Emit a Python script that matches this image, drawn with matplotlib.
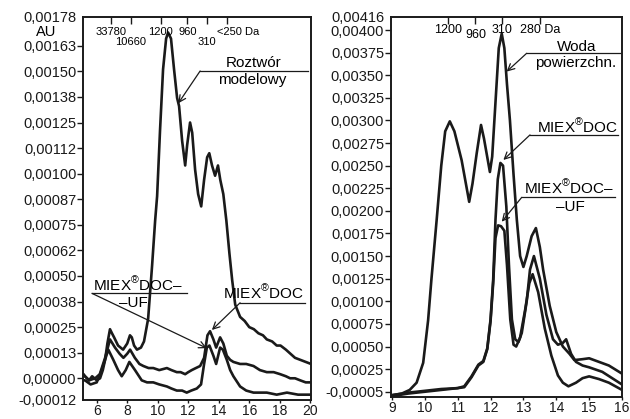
import matplotlib
matplotlib.use('Agg')
import matplotlib.pyplot as plt
import matplotlib.transforms as mtrans

plt.rcParams['font.family'] = ['Liberation Sans', 'DejaVu Sans']
plt.rcParams['mathtext.fontset'] = 'custom'
plt.rcParams['mathtext.rm'] = 'Liberation Sans'

# left panel: model solution and MIEX treated samples
l_model_x = [5.12, 5.23, 5.5, 5.7, 6.0, 6.22, 6.4, 6.55, 6.7, 6.87, 7.0, 7.14, 7.4, 7.73, 8.0, 8.18,
             8.3, 8.45, 8.64, 8.9, 9.1, 9.37, 9.63, 9.83, 9.96, 10.15, 10.35, 10.55, 10.68, 10.87,
             11.07, 11.27, 11.4, 11.6, 11.8, 11.93, 12.12, 12.26, 12.45, 12.65, 12.85, 13.04, 13.24,
             13.38, 13.56, 13.76, 13.95, 14.1, 14.3, 14.5, 14.7, 14.88, 15.08, 15.4, 15.7, 16.0,
             16.3, 16.6, 16.9, 17.15, 17.5, 17.8, 18.05, 18.4, 18.7, 19.0, 19.35, 19.7, 20.05]
l_model_y = [0.00002, 0.00001, -0.00001, 0.00001, -0.00001, 0.0, 0.00004, 0.00009, 0.00017, 0.00024,
             0.00022, 0.0002, 0.00016, 0.00014, 0.00017, 0.00021, 0.0002, 0.00016, 0.00014, 0.00015,
             0.00018, 0.00029, 0.00055, 0.00077, 0.00089, 0.00121, 0.00151, 0.00166, 0.00169, 0.00166,
             0.00151, 0.00137, 0.00133, 0.00116, 0.00104, 0.00114, 0.00125, 0.0012, 0.00102, 0.0009,
             0.00084, 0.00097, 0.00108, 0.0011, 0.00104, 0.00099, 0.00104, 0.00097, 0.0009, 0.00077,
             0.00061, 0.00048, 0.00036, 0.0003, 0.00028, 0.00025, 0.00024, 0.00022, 0.00021, 0.00019,
             0.00018, 0.00016, 0.00016, 0.00014, 0.00012, 0.0001, 0.00009, 0.00008, 0.00007]

l_doc_x = [5.12, 5.23, 5.5, 5.9, 6.2, 6.55, 6.87, 7.2, 7.5, 7.75, 8.0, 8.19, 8.5, 8.8, 9.06, 9.4,
           9.71, 10.1, 10.6, 10.9, 11.25, 11.5, 11.8, 12.0, 12.23, 12.5, 12.78, 13.04, 13.26, 13.43,
           13.65, 13.83, 14.09, 14.3, 14.53, 14.75, 14.96, 15.4, 15.8, 16.28, 16.7, 17.15, 17.6,
           18.03, 18.4, 18.68, 19.0, 19.34, 19.7, 20.05]
l_doc_y = [0.00002, 0.00001, -0.00001, 0.0, 0.00002, 0.0001, 0.00019, 0.00015, 0.00012, 0.0001,
           0.00012, 0.00014, 0.0001, 0.00007, 0.00006, 0.00005, 0.00005, 0.00004, 0.00005, 0.00004,
           0.00003, 0.00003, 0.00002, 0.00003, 0.00004, 0.00005, 0.00006, 0.0001, 0.00021, 0.00023,
           0.00019, 0.00015, 0.0002, 0.00017, 0.00011, 0.00009, 0.00008, 0.00007, 0.00007, 0.00006,
           0.00004, 0.00003, 0.00003, 0.00002, 0.00001, 0.0, 0.0, -0.00001, -0.00002, -0.00002]

l_uf_x = [5.12, 5.23, 5.6, 6.0, 6.33, 6.76, 7.09, 7.4, 7.64, 7.9, 8.14, 8.51, 8.95, 9.3, 9.71, 10.1,
          10.6, 10.9, 11.25, 11.6, 11.9, 12.2, 12.56, 12.84, 13.04, 13.22, 13.39, 13.65, 13.83,
          14.09, 14.27, 14.53, 14.75, 14.96, 15.4, 15.8, 16.28, 16.7, 17.15, 17.8, 18.47, 19.2, 20.05]
l_uf_y = [-0.00001, -0.00001, -0.00003, -0.00002, 0.00004, 0.00014, 0.00009, 0.00004, 0.00001,
          0.00004, 0.00008, 0.00004, -0.00001, -0.00002, -0.00002, -0.00003, -0.00004, -0.00005,
          -0.00006, -0.00006, -0.00007, -0.00006, -0.00005, -0.00003, 0.00007, 0.00015, 0.00016,
          0.00011, 0.00007, 0.00015, 0.00014, 0.00009, 0.00004, 0.00001, -0.00004, -0.00006,
          -0.00007, -0.00007, -0.00007, -0.00008, -0.00007, -0.00008, -0.00008]

# right panel: surface water and MIEX treated samples
r_water_x = [8.97, 9.3, 9.54, 9.75, 9.95, 10.1, 10.2, 10.36, 10.5, 10.62, 10.76, 10.9, 11.12, 11.25,
             11.35, 11.45, 11.58, 11.71, 11.8, 11.98, 12.05, 12.15, 12.25, 12.34, 12.42, 12.5, 12.59,
             12.7, 12.8, 12.9, 13.0, 13.1, 13.25, 13.38, 13.5, 13.6, 13.8, 14.0, 14.2, 14.4, 14.55,
             14.8, 15.0, 15.3, 15.6, 16.0]
r_water_y = [-0.00004, -0.00002, 0.00002, 0.0001, 0.00032, 0.00079, 0.00124, 0.0019, 0.0025, 0.00288,
             0.00299, 0.00288, 0.00256, 0.0023, 0.0021, 0.0023, 0.00264, 0.00295, 0.0028, 0.00243,
             0.0026, 0.0032, 0.0038, 0.00396, 0.0038, 0.0034, 0.003, 0.0024, 0.0019, 0.0015, 0.00138,
             0.0015, 0.00172, 0.00181, 0.0016, 0.00135, 0.00095, 0.00066, 0.0005, 0.00042, 0.00035,
             0.00036, 0.00037, 0.00033, 0.00029, 0.0002]

r_doc_x = [8.97, 9.5, 10.0, 10.5, 11.0, 11.2, 11.42, 11.63, 11.78, 11.9, 12.0, 12.08, 12.15, 12.22,
           12.3, 12.38, 12.48, 12.56, 12.65, 12.75, 12.85, 12.95, 13.1, 13.2, 13.32, 13.5, 13.7,
           13.9, 14.05, 14.2, 14.3, 14.45, 14.6, 14.8, 15.0, 15.4, 16.0]
r_doc_y = [-0.00004, -0.00001, 0.00001, 0.00003, 0.00004, 0.00006, 0.00017, 0.0003, 0.00034, 0.00048,
           0.0008, 0.00124, 0.0019, 0.00235, 0.00253, 0.0025, 0.00205, 0.0014, 0.0008, 0.00058,
           0.00055, 0.00065, 0.001, 0.00135, 0.0015, 0.00125, 0.00085, 0.00058, 0.00052, 0.00054,
           0.00058, 0.00042, 0.00033, 0.00029, 0.00027, 0.00022, 0.00008]

r_uf_x = [8.97, 9.5, 10.0, 10.5, 11.0, 11.2, 11.42, 11.63, 11.78, 11.9, 12.0, 12.08, 12.15, 12.23,
          12.32, 12.42, 12.5, 12.6, 12.7, 12.78, 12.9, 13.05, 13.18, 13.28, 13.45, 13.65, 13.85,
          14.05, 14.2, 14.37, 14.6, 14.8, 15.0, 15.3, 15.6, 16.0]
r_uf_y = [-0.00005, -0.00002, 0.0, 0.00002, 0.00004, 0.00005, 0.00016, 0.00029, 0.00033, 0.00047,
          0.00078, 0.0012, 0.0017, 0.00184, 0.00183, 0.00178, 0.0014, 0.0008, 0.00052, 0.0005,
          0.0006, 0.0009, 0.0012, 0.0013, 0.0011, 0.0007, 0.0004, 0.00018, 0.0001, 0.00006, 0.0001,
          0.00015, 0.00017, 0.00014, 0.0001, 0.00002]

l_yticks = [0.000125 * k for k in range(14)]
l_ylabels = ['0,00000', '0,00013', '0,00025', '0,00038', '0,00050', '0,00062', '0,00075',
             '0,00087', '0,00100', '0,00112', '0,00125', '0,00138', '0,00150', '0,00163']
r_yticks = [0.00025 * k for k in range(17)]
r_ylabels = ['-0,00005', '0,00025', '0,00050', '0,00075', '0,00100', '0,00125', '0,00150',
             '0,00175', '0,00200', '0,00225', '0,00250', '0,00275', '0,00300', '0,00325',
             '0,00350', '0,00375', '0,00400']

# molecular weight markers on top (row 0 = upper, 1 = lower)
l_mw_x = [6.92, 8.23, 10.2, 11.94, 13.22, 14.53]
l_mw_lab = ['33780', '10660', '1200', '960', '310', '<250 Da']
l_mw_row = [0, 1, 0, 0, 1, 0]
r_mw_x = [10.71, 11.54, 12.34, 13.51]
r_mw_lab = ['1200', '960', '310', '280 Da']
r_mw_row = [0, 1, 0, 0]

ink = '#1a1a1a'
fig = plt.figure(figsize=(6.3, 4.19), dpi=100)
axl = fig.add_axes([0.1322, 0.0454, 0.3615, 0.9147])
axr = fig.add_axes([0.6206, 0.0532, 0.3667, 0.9069])

for ax in (axl, axr):
    for s in ax.spines.values():
        s.set_linewidth(1.4)
        s.set_color(ink)
    ax.tick_params(axis='y', direction='out', length=4, width=1, labelsize=10.5,
                   colors=ink, pad=1)
    ax.tick_params(axis='x', direction='out', length=2.5, width=1, labelsize=10,
                   colors=ink, pad=0.5)

# left
for xs, ys in ((l_model_x, l_model_y), (l_doc_x, l_doc_y), (l_uf_x, l_uf_y)):
    axl.plot(xs, ys, color=ink, lw=1.9)
axl.set_xlim(5.12, 20.05)
axl.set_ylim(-0.000106, 0.001767)
axl.set_xticks([6, 8, 10, 12, 14, 16, 18, 20])
axl.set_yticks([-0.000106] + l_yticks + [0.001767])
axl.set_yticklabels(['-0,00012'] + l_ylabels + ['0,00178'])
for t in (axl.yaxis.get_major_ticks()[0], axl.yaxis.get_major_ticks()[-1]):
    t.tick1line.set_visible(False)
axl.text(-0.165, 0.961, 'AU', transform=axl.transAxes, ha='center', va='center', fontsize=10.5)

# right
for xs, ys in ((r_water_x, r_water_y), (r_doc_x, r_doc_y), (r_uf_x, r_uf_y)):
    axr.plot(xs, ys, color=ink, lw=1.9)
axr.set_xlim(8.97, 16.0)
axr.set_ylim(-0.000055, 0.004147)
axr.set_xticks(range(9, 17))
axr.set_yticks(r_yticks + [0.004147])
axr.set_yticklabels(r_ylabels + ['0,00416'])
axr.yaxis.get_major_ticks()[-1].tick1line.set_visible(False)

# top markers
for ax, xs, labs, rws, ypos, fs, x0 in ((axl, l_mw_x, l_mw_lab, l_mw_row, [0.961, 0.935], 8, 13.87),
                                       (axr, r_mw_x, r_mw_lab, r_mw_row, [0.965, 0.951], 9, 12.9)):
    top = ax.secondary_xaxis('top')
    top.set_xticks(xs)
    top.set_xticklabels([])
    top.tick_params(direction='in', length=5, width=1, colors=ink)
    top.spines['top'].set_visible(False)
    tr = mtrans.blended_transform_factory(ax.transData, ax.transAxes)
    for x, lab, r in zip(xs, labs, rws):
        if lab.endswith('Da'):
            ax.text(x0, ypos[r], lab, transform=tr, ha='left', va='center', fontsize=fs)
        else:
            ax.text(x, ypos[r], lab, transform=tr, ha='center', va='center', fontsize=fs)

miex = r'MIEX$^{\mathrm{®}}$DOC'


def label(ax, lines, xline, yline, tip, fs=11):
    ax.plot(xline, [yline, yline], color=ink, lw=0.9, clip_on=False)
    ax.annotate('', xy=tip, xytext=(xline[0], yline),
                arrowprops=dict(arrowstyle='->', color=ink, lw=0.9,
                                shrinkA=0, shrinkB=0, mutation_scale=12))
    for tx, ty, s in lines:
        ax.text(tx, ty, s, ha='center', va='center', fontsize=fs)


label(axl, [(16.29, 0.001541, 'Roztwór'), (16.19, 0.001458, 'modelowy')],
      [12.78, 19.87], 0.0015018, (11.35, 0.001344))
label(axl, [(8.68, 0.000458, miex + '–'), (8.38, 0.000368, '–UF')],
      [5.69, 11.93], 0.000415, (13.22, 0.000147))
label(axl, [(16.95, 0.000419, miex)], [15.4, 19.67], 0.000369, (13.55, 0.000236))

label(axr, [(14.62, 0.003816, 'Woda'), (14.59, 0.003633, 'powierzchn.')],
      [13.1, 15.95], 0.003743, (12.49, 0.00354))
label(axr, [(14.65, 0.002935, miex)], [13.2, 15.88], 0.00284, (12.39, 0.002563))
label(axr, [(14.39, 0.002255, miex + '–'), (14.42, 0.00204, '–UF')],
      [12.95, 15.79], 0.00215, (12.34, 0.00188))

fig.savefig('out.png', dpi=100)
